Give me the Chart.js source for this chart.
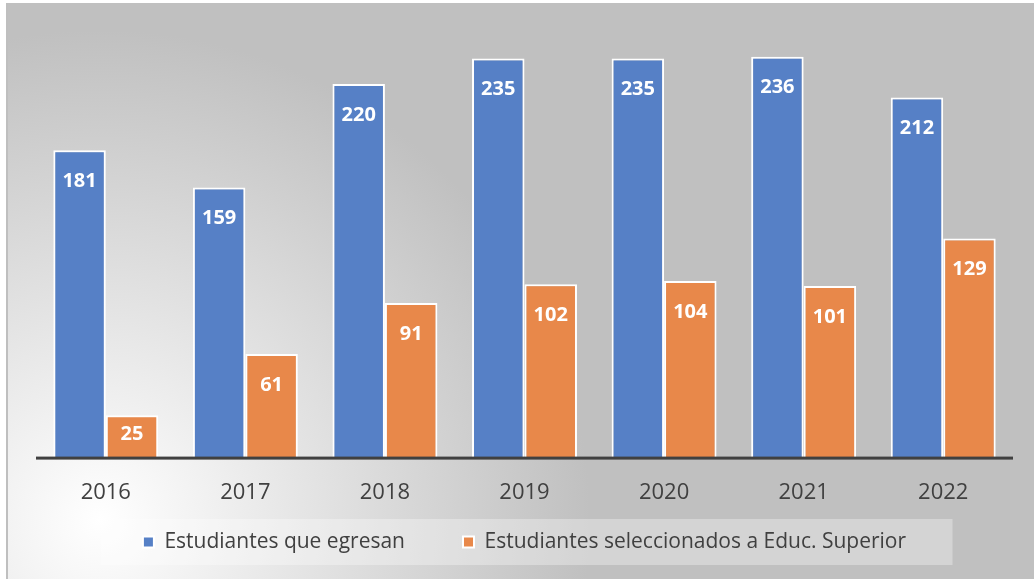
<!DOCTYPE html>
<html>
<head>
<meta charset="utf-8">
<script src="https://cdn.jsdelivr.net/npm/chart.js@4.4.0/dist/chart.umd.min.js"></script>
<style>
  html, body { margin: 0; padding: 0; background: #ffffff; }
  #frame {
    position: absolute; left: 6px; top: 3px; width: 1028px; height: 576px;
    box-sizing: border-box; border-left: 2px solid #bfbfbf;
    background: radial-gradient(circle 490px at 92px 517px, #ffffff 0%, #c0c0c0 100%);
  }
  #wrap { position: relative; width: 1026px; height: 576px; }
</style>
</head>
<body>
<div id="frame"><div id="wrap"><canvas id="chart"></canvas></div></div>
<script>
// data
const years = ["2016", "2017", "2018", "2019", "2020", "2021", "2022"];
const egresan = [181, 159, 220, 235, 235, 236, 212];
const seleccionados = [25, 61, 91, 102, 104, 101, 129];
const seriesNames = ["Estudiantes que egresan", "Estudiantes seleccionados a Educ. Superior"];

const FONT = "'Open Sans', 'DejaVu Sans', sans-serif";
const LEGEND_PAD = 58;
const LEGEND_SIZE = 21;

// white values drawn inside the top of each bar
const barLabels = {
    id: "barLabels",
    afterDatasetsDraw(chart) {
        const ctx = chart.ctx;
        ctx.save();
        ctx.fillStyle = "#ffffff";
        ctx.font = "bold 20px " + FONT;
        ctx.textAlign = "center";
        ctx.textBaseline = "middle";
        chart.data.datasets.forEach(function (ds, i) {
            chart.getDatasetMeta(i).data.forEach(function (bar, j) {
                const h = bar.base - bar.y;
                const off = Math.min(31, h * 0.45);
                ctx.fillText(String(ds.data[j]), bar.x, bar.y + off);
            });
        });
        ctx.restore();
    }
};

// dark baseline across the plot only
const baseLine = {
    id: "baseLine",
    afterDatasetsDraw(chart) {
        const area = chart.chartArea;
        const y0 = chart.scales.y.getPixelForValue(0);
        const ctx = chart.ctx;
        ctx.save();
        ctx.fillStyle = "#404040";
        ctx.fillRect(area.left, y0 - 1, area.right - area.left, 3);
        ctx.restore();
    }
};

// the wide item spacing also pads the legend vertically, so pull it back up
const legendShift = {
    id: "legendShift",
    afterLayout(chart) {
        const lg = chart.legend;
        if (!lg) return;
        lg.top = 539 - LEGEND_PAD - LEGEND_SIZE / 2;
        lg.bottom = lg.top + LEGEND_PAD + LEGEND_SIZE + 12;
    }
};

// light panel behind the legend
const legendPanel = {
    id: "legendPanel",
    beforeDraw(chart) {
        const lg = chart.legend;
        if (!lg || !lg.legendHitBoxes.length) return;
        const boxes = lg.legendHitBoxes;
        const first = boxes[0];
        const last = boxes[boxes.length - 1];
        const cx = (first.left + last.left + last.width) / 2;
        const cy = first.top + first.height / 2;
        const ctx = chart.ctx;
        ctx.save();
        ctx.fillStyle = "rgba(255,255,255,0.32)";
        ctx.fillRect(cx - 424, cy - 23, 852, 46);
        ctx.restore();
    }
};

const ctx = document.getElementById("chart").getContext("2d");
new Chart(ctx, {
    type: "bar",
    data: {
        labels: years,
        datasets: [{
            label: seriesNames[0],
            data: egresan,
            backgroundColor: "#5680c6",
            borderColor: "#ffffff",
            borderWidth: 2
        }, {
            label: seriesNames[1],
            data: seleccionados,
            backgroundColor: "#e8884a",
            borderColor: "#ffffff",
            borderWidth: 2
        }]
    },
    options: {
        responsive: true,
        maintainAspectRatio: false,
        animation: false,
        categoryPercentage: 0.752,
        barPercentage: 1.0,
        layout: { padding: { left: 28, right: 21, top: 30, bottom: 11 } },
        scales: {
            x: {
                grid: { display: false, drawTicks: false },
                border: { display: false },
                ticks: { color: "#404040", padding: 22, font: { family: FONT, size: 22 } }
            },
            y: { display: false, min: 0, max: 250 }
        },
        plugins: {
            legend: {
                position: "bottom",
                maxHeight: 40,
                labels: {
                    color: "#404040",
                    boxWidth: 11,
                    boxHeight: 11,
                    padding: LEGEND_PAD,
                    font: { family: FONT, size: LEGEND_SIZE }
                }
            },
            tooltip: { enabled: false }
        }
    },
    plugins: [barLabels, baseLine, legendShift, legendPanel]
});
</script>
</body>
</html>
